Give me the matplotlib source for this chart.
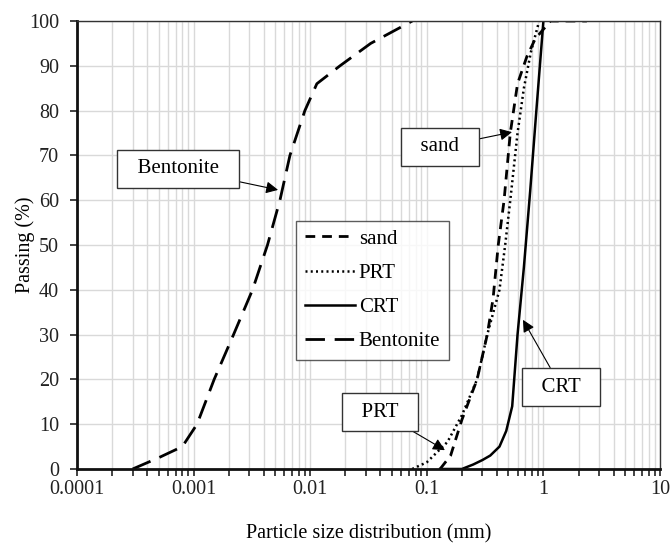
import matplotlib
matplotlib.use("Agg")
import matplotlib.pyplot as plt
from matplotlib.ticker import LogLocator, FixedLocator, NullFormatter

plt.rcParams['font.family'] = ['Liberation Serif', 'DejaVu Serif']

# particle size (mm) / passing (%)
sand_x = [0.13, 0.16, 0.2, 0.27, 0.33, 0.37, 0.41, 0.46, 0.52, 0.6, 0.72, 0.85, 1.15, 2.36]
sand_y = [0, 3, 11, 20, 30, 38, 50, 60, 75, 86, 92, 96, 100, 100]

prt_x = [0.075, 0.1, 0.15, 0.2, 0.27, 0.33, 0.42, 0.47, 0.52, 0.6, 0.68, 0.78, 0.92]
prt_y = [0, 1.5, 6, 12, 20, 30, 40, 50, 60, 75, 85, 93, 100]

crt_x = [0.13, 0.2, 0.25, 0.3, 0.35, 0.42, 0.48, 0.54, 0.6, 0.68, 0.77, 0.87, 1.0]
crt_y = [0, 0, 1, 2, 3, 5, 8.5, 14, 30, 45, 62, 80, 100]

bent_x = [0.0003, 0.0005, 0.0008, 0.00107, 0.0015, 0.0022, 0.0032, 0.0043, 0.0055,
          0.0067, 0.009, 0.0114, 0.018, 0.033, 0.075]
bent_y = [0, 2.5, 5, 10, 20, 30, 40, 50, 60, 70, 80, 86, 90, 95, 100]

fig = plt.figure(figsize=(6.71, 5.43), dpi=100)
ax = fig.add_axes([0.1148, 0.1363, 0.8688, 0.825])

ax.plot(sand_x, sand_y, color='black', lw=2, ls=(0, (3.5, 2.5)), label='sand')
ax.plot(prt_x, prt_y, color='black', lw=1.8, ls=(0, (0.8, 1.3)), label='PRT')
ax.plot(crt_x, crt_y, color='black', lw=1.8, ls='-', label='CRT')
ax.plot(bent_x, bent_y, color='black', lw=2, ls=(0, (7, 3.5)), label='Bentonite')

ax.set_xscale('log')
ax.set_xlim(0.0001, 10)
ax.set_ylim(0, 100)
ax.xaxis.set_major_locator(FixedLocator([0.0001, 0.001, 0.01, 0.1, 1, 10]))
ax.set_xticklabels(['0.0001', '0.001', '0.01', '0.1', '1', '10'])
ax.xaxis.set_minor_locator(LogLocator(base=10, subs=range(2, 10), numticks=20))
ax.xaxis.set_minor_formatter(NullFormatter())
ax.set_yticks(range(0, 101, 10))

ax.grid(True, which='major', color='#d9d9d9', lw=1)
ax.grid(True, which='minor', axis='x', color='#d9d9d9', lw=1)
ax.set_axisbelow(True)

ax.tick_params(axis='both', which='both', direction='out', labelsize=14.5, colors='#222222',
               width=1.2, length=5)
ax.tick_params(axis='x', which='both', pad=3)
ax.tick_params(axis='y', pad=8)

for s in ['left', 'bottom']:
    ax.spines[s].set_linewidth(2)
    ax.spines[s].set_color('#111111')
for s in ['top', 'right']:
    ax.spines[s].set_linewidth(1)
    ax.spines[s].set_color('#333333')

ax.set_xlabel('Particle size distribution (mm)', fontsize=14.5)
ax.set_ylabel('Passing (%)', fontsize=14.5)
ax.xaxis.set_label_coords(0.5, -0.124)
ax.yaxis.set_label_coords(-0.072, 0.5)

leg = ax.legend(loc='upper left', bbox_to_anchor=(0.376, 0.554), borderaxespad=0,
                fontsize=15, fancybox=False, frameon=True, handlelength=2.4,
                handletextpad=0.2, labelspacing=0.7, borderpad=0.4)
leg.get_frame().set_edgecolor('#333333')
leg.get_frame().set_linewidth(1)

box = dict(boxstyle='square,pad=0.45', fc='white', ec='#333333', lw=1)
arr = dict(arrowstyle='-|>', color='black', lw=0.8, mutation_scale=18, shrinkA=0, shrinkB=0)
notes = [('Bentonite', (0.0053, 62.3), (0.000735, 67.0)),
         ('sand', (0.538, 75.2), (0.13, 71.9)),
         ('PRT', (0.143, 4.2), (0.0397, 12.7)),
         ('CRT', (0.668, 33.3), (1.42, 18.3))]
for txt, xy, xytext in notes:
    ax.annotate('  ' + txt + '  ', xy=xy, xytext=xytext, fontsize=15, ha='center', va='center',
                bbox=box, arrowprops=arr)

fig.savefig('out.png', dpi=100)
